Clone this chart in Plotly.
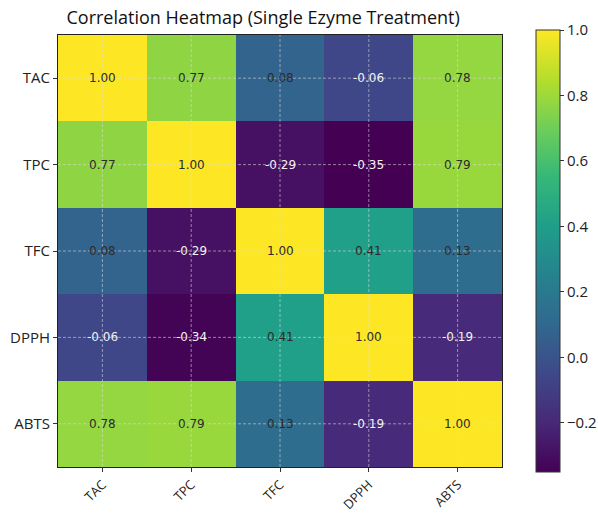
import plotly.graph_objects as go

# Variables and their pairwise correlation coefficients
labels = ["TAC", "TPC", "TFC", "DPPH", "ABTS"]
corr = [
    [1.00, 0.77, 0.08, -0.06, 0.78],
    [0.77, 1.00, -0.29, -0.35, 0.79],
    [0.08, -0.29, 1.00, 0.41, 0.13],
    [-0.06, -0.34, 0.41, 1.00, -0.19],
    [0.78, 0.79, 0.13, -0.19, 1.00],
]
cbar_vals = [-0.2, 0.0, 0.2, 0.4, 0.6, 0.8, 1.0]
cbar_text = ["\u22120.2", "0.0", "0.2", "0.4", "0.6", "0.8", "1.0"]

fig = go.Figure(
    go.Heatmap(
        z=corr,
        x=labels,
        y=labels,
        colorscale="Viridis",
        zmin=-0.35,
        zmax=1.0,
        hoverinfo="skip",
        colorbar=dict(
            x=1.054,
            xanchor="left",
            y=0.5,
            yanchor="middle",
            len=1.07,
            lenmode="fraction",
            thickness=24,
            outlinewidth=1,
            outlinecolor="#333333",
            tickvals=cbar_vals,
            ticktext=cbar_text,
            ticks="outside",
            ticklen=4,
            tickcolor="#333333",
            tickfont=dict(family="Open Sans", size=15, color="#222222"),
        ),
    )
)

# Cell value labels: light text on negative cells, dark text elsewhere
for i, row in enumerate(corr):
    for j, v in enumerate(row):
        fig.add_annotation(
            x=labels[j],
            y=labels[i],
            text=f"{v:.2f}",
            showarrow=False,
            font=dict(family="DejaVu Sans", size=12,
                      color="#f2f2f2" if v < 0 else "#2b2b2b"),
        )

# Dashed grid lines through the tick positions, drawn over the cells
grid_line = dict(color="rgba(220,220,220,0.7)", width=0.8, dash="3px,2px")
for k in range(len(labels)):
    fig.add_shape(type="line", xref="x", yref="paper", x0=k, x1=k, y0=0, y1=1,
                  line=grid_line, layer="above")
    fig.add_shape(type="line", xref="paper", yref="y", x0=0, x1=1, y0=k, y1=k,
                  line=grid_line, layer="above")

axis_style = dict(
    ticks="outside",
    ticklen=4,
    tickcolor="#333333",
    showline=True,
    linecolor="#222222",
    linewidth=1,
    mirror=True,
    showgrid=False,
    zeroline=False,
    automargin=False,
)

fig.update_layout(
    width=598,
    height=513,
    margin=dict(l=58, r=96, t=35, b=46, autoexpand=False),
    paper_bgcolor="white",
    plot_bgcolor="white",
    title=dict(
        text="Correlation Heatmap (Single Ezyme Treatment)",
        x=0.44,
        xanchor="center",
        y=0.965,
        yanchor="middle",
        font=dict(family="Open Sans", size=18, color="#111111"),
    ),
    xaxis=dict(tickangle=-45, ticklabelstandoff=0,
               tickfont=dict(family="Open Sans", size=13, color="#222222"),
               **axis_style),
    yaxis=dict(autorange="reversed",
               tickfont=dict(family="Open Sans", size=15, color="#222222"),
               **axis_style),
)

fig.write_html("out.html")
